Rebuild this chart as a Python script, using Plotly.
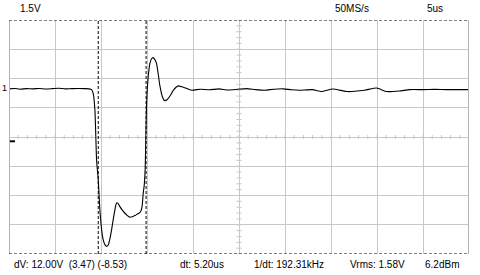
import plotly.graph_objects as go

# ---- data (time in microseconds, voltage in volts) ----
t_us = [0.0, 0.6, 1.2, 1.9, 2.6, 3.3, 4.0, 4.7, 5.4, 6.1, 6.8, 7.5, 8.2, 8.7, 8.98,
        9.15, 9.34, 9.52, 9.70, 9.88, 10.07, 10.24, 10.38, 10.52, 10.66, 10.80, 10.97, 11.15,
        11.33, 11.51, 11.62, 11.72, 11.85,
        12.05, 12.32, 12.60, 12.87, 13.14, 13.41, 13.68, 13.95, 14.22, 14.36, 14.48, 14.58, 14.70,
        14.80, 14.88, 14.95, 15.04, 15.13,
        15.22, 15.31, 15.48, 15.65, 15.84, 16.04, 16.22, 16.40, 16.66, 16.90, 17.18, 17.48, 17.92,
        18.38, 19.10, 19.84,
        20.8, 21.8, 22.8, 23.8, 24.8, 25.8, 26.8, 27.8, 28.8, 29.8, 30.7,
        31.60, 33.0, 33.98, 35.18, 36.81, 38.65, 39.96, 41.04, 42.45, 43.54,
        45.0, 46.3, 47.56, 48.8, 50.0]
volts = [-0.06, -0.04, -0.08, -0.05, -0.06, -0.04, -0.07, -0.05, -0.03, -0.06, -0.05, -0.04, -0.05, -0.06, -0.10,
         -0.29, -1.16, -3.71, -4.73, -6.27, -7.29, -7.80, -8.00, -8.11, -8.13, -8.06, -7.75, -7.29,
         -6.75, -6.27, -6.00, -5.90, -5.93,
         -6.10, -6.28, -6.44, -6.56, -6.64, -6.62, -6.56, -6.48, -6.41, -6.30, -6.05, -5.45, -5.00,
         -4.20, -2.40, -0.90, 0.00, 0.55,
         0.95, 1.23, 1.47, 1.54, 1.45, 1.23, 0.70, 0.10, -0.45, -0.66, -0.62, -0.44, -0.10,
         0.09, 0.00, -0.13,
         -0.08, -0.11, -0.06, -0.12, -0.09, -0.05, -0.10, -0.13, -0.08, -0.06, -0.11,
         -0.13, -0.10, -0.20, -0.07, -0.20, -0.13, -0.02, -0.20, -0.17, -0.10,
         -0.10, -0.09, -0.10, -0.10, -0.10]

cursor_t = [9.7, 14.9]          # time cursors (us)
cursor_v = [3.47, -8.53]        # voltage cursors (V)
x_range = [0, 50]
x_div = 5.0
v_div = 1.5
ground_level = -2.75
trigger_level = 0.0

top_labels = ["1.5V", "50MS/s", "5us"]
bottom_labels = ["dV: 12.00V  (3.47) (-8.53)", "dt: 5.20us", "1/dt: 192.31kHz", "Vrms: 1.58V", "6.2dBm"]

# ---- figure ----
y_lo, y_hi = min(cursor_v), max(cursor_v)
y_mid = (y_lo + y_hi) / 2
x_mid = (x_range[0] + x_range[1]) / 2

fig = go.Figure()
fig.add_trace(go.Scatter(x=t_us, y=volts, mode="lines",
                         line=dict(color="#000000", width=1.1, shape="spline", smoothing=0.5),
                         hoverinfo="skip"))

grid_col = "#c8c8c8"
shapes = []
# minor ticks on the centre cross
xt = x_range[0]
step = x_div / 5
while xt <= x_range[1] + 1e-9:
    shapes.append(dict(type="line", xref="x", yref="y", x0=xt, x1=xt,
                       y0=y_mid - 0.1, y1=y_mid + 0.1, line=dict(color=grid_col, width=1)))
    xt += step
yt = y_lo
vstep = v_div / 5
while yt <= y_hi + 1e-9:
    shapes.append(dict(type="line", xref="x", yref="y", x0=x_mid - 0.28, x1=x_mid + 0.28,
                       y0=yt, y1=yt, line=dict(color=grid_col, width=1)))
    yt += vstep
# left / right border
for xb in x_range:
    shapes.append(dict(type="line", xref="x", yref="y", x0=xb, x1=xb, y0=y_lo, y1=y_hi,
                       line=dict(color="#b4b4b4", width=2)))
# cursors
for ct in cursor_t:
    shapes.append(dict(type="line", xref="x", yref="y", x0=ct, x1=ct, y0=y_lo, y1=y_hi,
                       line=dict(color="#000000", width=1, dash="3px,2px")))
for cv in cursor_v:
    shapes.append(dict(type="line", xref="x", yref="y", x0=x_range[0], x1=x_range[1], y0=cv, y1=cv,
                       line=dict(color="#000000", width=1, dash="3px,2px")))
# ground marker
shapes.append(dict(type="line", xref="x", yref="y", x0=0.1, x1=0.65, y0=ground_level, y1=ground_level,
                   line=dict(color="#000000", width=2)))

font = dict(family="Liberation Sans, Arial, sans-serif", size=10, color="#000000")
ann = []
top_x = [0.0196, 0.704, 0.904]
for s, px in zip(top_labels, top_x):
    ann.append(dict(text=s, xref="paper", yref="paper", x=px, y=1.049, xanchor="left",
                    yanchor="middle", showarrow=False, font=font))
bot_x = [0.0065, 0.367, 0.528, 0.737, 0.9]
for s, px in zip(bottom_labels, bot_x):
    ann.append(dict(text=s, xref="paper", yref="paper", x=px, y=-0.047, xanchor="left",
                    yanchor="middle", showarrow=False, font=font))
ann.append(dict(text="1", xref="paper", yref="y", x=-0.02, y=trigger_level, xanchor="left",
                yanchor="middle", showarrow=False, font=dict(family=font["family"], size=9, color="#000000")))

fig.update_layout(
    width=480, height=275,
    margin=dict(l=9, r=11, t=20, b=21),
    paper_bgcolor="#ffffff", plot_bgcolor="#ffffff",
    showlegend=False,
    shapes=shapes, annotations=ann,
    xaxis=dict(range=x_range, showgrid=True, gridcolor=grid_col, gridwidth=1,
               tick0=0, dtick=x_div, showticklabels=False, ticks="", zeroline=False,
               showline=False, fixedrange=True),
    yaxis=dict(range=[y_lo, y_hi], showgrid=True, gridcolor=grid_col, gridwidth=1,
               tick0=y_lo, dtick=v_div, showticklabels=False, ticks="", zeroline=False,
               showline=False, fixedrange=True),
)
fig.write_html("out.html")
